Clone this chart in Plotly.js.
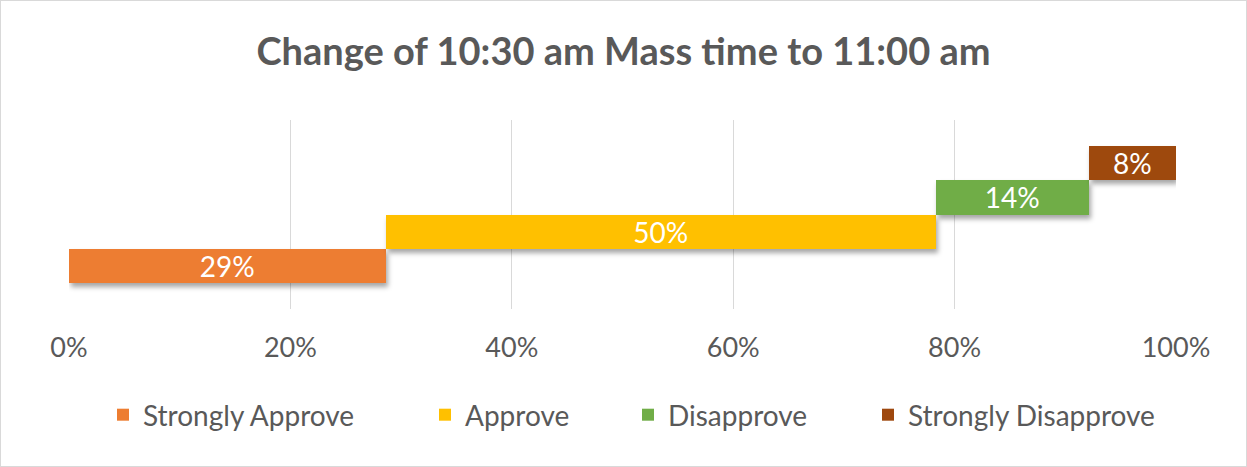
<!DOCTYPE html>
<html>
<head>
<meta charset="utf-8">
<script src="https://cdn.plot.ly/plotly-3.0.1.min.js"></script>
<style>
  html, body { margin: 0; padding: 0; background: #fff; }
  #frame { position: absolute; left: 0; top: 0; width: 1245px; height: 465px; border: 1px solid #d9d9d9; overflow: hidden; }
  #chart { width: 1245px; height: 465px; }
  .barlayer .point path { filter: url(#barShadow); }
</style>
</head>
<body>
<svg width="0" height="0" style="position:absolute">
  <defs>
    <filter id="barShadow" x="-10%" y="-40%" width="130%" height="200%">
      <feDropShadow dx="2" dy="4" stdDeviation="2.5" flood-color="#000000" flood-opacity="0.35"/>
    </filter>
  </defs>
</svg>
<div id="frame"><div id="chart"></div></div>
<script>
// ---- data ----
var seriesNames = ["Strongly Approve", "Approve", "Disapprove", "Strongly Disapprove"];
var seriesValues = [28.6, 49.7, 13.8, 7.9];          // percent of responses
var seriesLabels = ["29%", "50%", "14%", "8%"];
var seriesColors = ["#ED7D31", "#FFC000", "#70AD47", "#9E480E"];
var tickValues = [0, 20, 40, 60, 80, 100];
var tickLabels = ["0%", "20%", "40%", "60%", "80%", "100%"];
// left edge (px) of each legend entry's colour square
var legendSquareLeft = [116, 438, 641, 881];

var FONT = "Lato, 'Open Sans', sans-serif";
var W = 1245, H = 465;
var traces = [];
var cumulative = 0;
var layout = {
  width: W, height: H,
  paper_bgcolor: "#ffffff",
  plot_bgcolor: "#ffffff",
  margin: { l: 68, r: 70, t: 119, b: 157, pad: 0 },
  barmode: "overlay",
  bargap: 0,
  showlegend: true,
  title: {
    text: "<b>Change of 10:30 am Mass time to 11:00 am</b>",
    font: { family: FONT, size: 38, color: "#595959" },
    x: 0.5, xref: "container", xanchor: "center",
    y: 1 - 51 / H, yref: "container", yanchor: "middle"
  },
  xaxis: {
    range: [0, 100],
    tickvals: tickValues,
    ticktext: tickLabels,
    showgrid: true,
    gridcolor: "#d9d9d9",
    gridwidth: 1,
    zeroline: false,
    showline: false,
    ticks: "",
    ticklabelstandoff: 20,
    tickfont: { family: FONT, size: 27, color: "#595959" },
    fixedrange: true
  },
  yaxis: {
    range: [-1.24, 4.24],
    visible: false,
    showgrid: false,
    zeroline: false,
    fixedrange: true
  }
};

for (var i = 0; i < seriesNames.length; i++) {
  var legendId = i === 0 ? "legend" : "legend" + (i + 1);
  traces.push({
    type: "bar",
    orientation: "h",
    name: seriesNames[i],
    legend: legendId,
    y: [i],
    x: [seriesValues[i]],
    base: [cumulative],
    width: 1,
    marker: { color: seriesColors[i], line: { width: 0 } },
    text: [seriesLabels[i]],
    textposition: "inside",
    insidetextanchor: "middle",
    constraintext: "none",
    textangle: 0,
    textfont: { family: FONT, size: 28, color: "#ffffff" },
    hoverinfo: "name+x"
  });
  layout[legendId] = {
    orientation: "h",
    xref: "container", yref: "container",
    x: (legendSquareLeft[i] - 14) / W, xanchor: "left",
    y: 1 - 414 / H, yanchor: "middle",
    font: { family: FONT, size: 28, color: "#595959" },
    itemwidth: 30,
    bgcolor: "rgba(0,0,0,0)"
  };
  cumulative += seriesValues[i];
}

Plotly.newPlot("chart", traces, layout, { displayModeBar: false, staticPlot: true });
</script>
</body>
</html>
